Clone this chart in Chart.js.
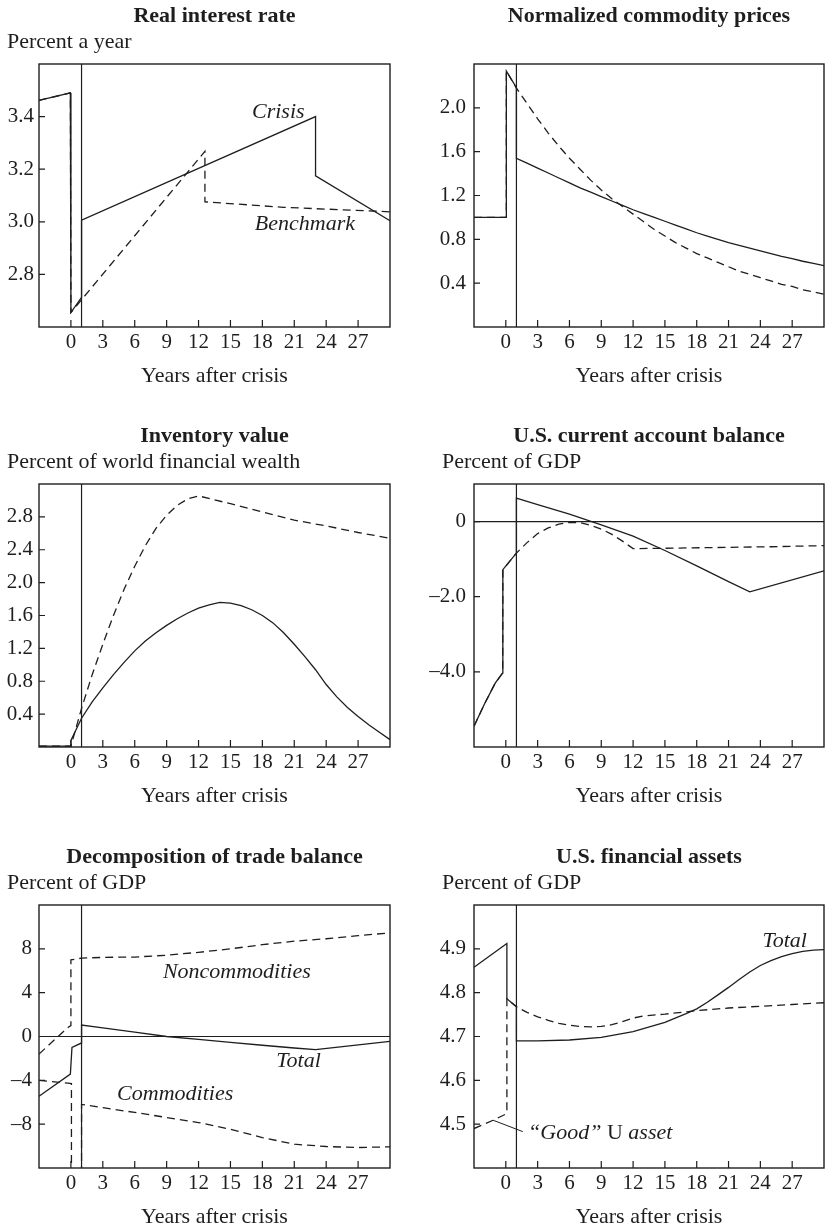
<!DOCTYPE html>
<html>
<head>
<meta charset="utf-8">
<script src="https://cdn.jsdelivr.net/npm/chart.js@4.4.0/dist/chart.umd.min.js"></script>
<style>
  html, body { margin: 0; padding: 0; background: #fff; overflow: hidden; }
  #page { position: relative; width: 825px; height: 1228px; overflow: hidden; }
  canvas { position: absolute; }
</style>
</head>
<body>
<div id="page">
  <canvas id="rate" width="412" height="389" style="left:0;top:0"></canvas>
  <canvas id="prices" width="413" height="389" style="left:412px;top:0"></canvas>
  <canvas id="inventory" width="412" height="389" style="left:0;top:420px"></canvas>
  <canvas id="account" width="413" height="389" style="left:412px;top:420px"></canvas>
  <canvas id="trade" width="412" height="389" style="left:0;top:841px"></canvas>
  <canvas id="assets" width="413" height="389" style="left:412px;top:841px"></canvas>
</div>
<script>
var ink = '#1e1e1e';
var serif = "'Liberation Serif', 'Times New Roman', serif";

// x ticks shared by all panels
var yearTicks = [0, 3, 6, 9, 12, 15, 18, 21, 24, 27];
var crisisLine = [1, 1];

// Real interest rate
var rateCrisisX = [-3, -0.05, 0, 1, 1, 23, 23, 30];
var rateCrisisY = [3.462, 3.49, 2.655, 2.713, 3.006, 3.40, 3.175, 3.004];
var rateBenchX = [-3, -0.05, 0, 12.6, 12.6, 20, 30];
var rateBenchY = [3.462, 3.49, 2.655, 3.268, 3.076, 3.055, 3.038];
var rateTicks = [2.8, 3.0, 3.2, 3.4];
var rateTickText = ['2.8', '3.0', '3.2', '3.4'];

// Normalized commodity prices
var priceCrisisX = [-3, 0.05, 0.05, 1, 1, 2, 3, 4, 5, 6, 7, 8, 9, 10, 11, 12, 13, 14, 15, 16, 17, 18, 19, 20, 21, 22, 23, 24, 25, 26, 27, 28, 29, 30];
var priceCrisisY = [1.0, 1.0, 2.336, 2.185, 1.54, 1.495, 1.45, 1.405, 1.36, 1.315, 1.27, 1.23, 1.19, 1.15, 1.11, 1.07, 1.035, 1.0, 0.965, 0.93, 0.895, 0.86, 0.83, 0.80, 0.77, 0.745, 0.72, 0.695, 0.67, 0.645, 0.625, 0.60, 0.58, 0.56];
var priceBenchX = [-3, 0.05, 0.05, 1, 2, 3, 4, 5, 6, 7, 8, 9, 10, 11, 12, 13, 14, 15, 16, 17, 18, 19, 20, 21, 22, 23, 24, 25, 26, 27, 28, 29, 30];
var priceBenchY = [1.0, 1.0, 2.336, 2.18, 2.04, 1.90, 1.77, 1.65, 1.54, 1.44, 1.34, 1.25, 1.17, 1.10, 1.03, 0.96, 0.89, 0.83, 0.77, 0.72, 0.67, 0.63, 0.59, 0.55, 0.51, 0.48, 0.45, 0.42, 0.39, 0.37, 0.34, 0.32, 0.30];
var priceTicks = [0.4, 0.8, 1.2, 1.6, 2.0];
var priceTickText = ['0.4', '0.8', '1.2', '1.6', '2.0'];

// Inventory value
var invCrisisX = [-3, 0, 0, 1, 2, 3, 4, 5, 6, 7, 8, 9, 10, 11, 12, 13, 14, 15, 16, 17, 18, 19, 20, 21, 22, 23, 24, 25, 26, 27, 28, 29, 30];
var invCrisisY = [0.01, 0.01, 0.08, 0.35, 0.55, 0.72, 0.88, 1.03, 1.17, 1.29, 1.39, 1.48, 1.56, 1.63, 1.69, 1.73, 1.76, 1.75, 1.72, 1.67, 1.60, 1.51, 1.39, 1.25, 1.10, 0.94, 0.76, 0.61, 0.48, 0.37, 0.27, 0.18, 0.09];
var invBenchX = [-3, 0, 1, 2, 3, 4, 5, 6, 7, 8, 9, 10, 11, 12, 15, 18, 21, 24, 27, 30];
var invBenchY = [0.01, 0.01, 0.47, 0.88, 1.25, 1.60, 1.92, 2.20, 2.45, 2.66, 2.82, 2.94, 3.02, 3.055, 2.96, 2.86, 2.76, 2.69, 2.61, 2.54];
var invTicks = [0.4, 0.8, 1.2, 1.6, 2.0, 2.4, 2.8];
var invTickText = ['0.4', '0.8', '1.2', '1.6', '2.0', '2.4', '2.8'];

// U.S. current account balance
var caCrisisX = [-3, -2, -1, -0.3, -0.28, 1, 1, 3, 6, 9, 12, 15, 18, 21, 23, 30];
var caCrisisY = [-5.45, -4.85, -4.3, -4.03, -1.28, -0.84, 0.625, 0.45, 0.2, -0.09, -0.39, -0.77, -1.18, -1.6, -1.87, -1.31];
var caBenchX = [-3, -2, -1, -0.3, -0.28, 1, 2, 3, 4, 5, 6, 7, 8, 9, 10, 11, 12, 15, 20, 25, 30];
var caBenchY = [-5.45, -4.85, -4.3, -4.03, -1.28, -0.84, -0.56, -0.32, -0.17, -0.07, -0.02, -0.03, -0.1, -0.2, -0.34, -0.52, -0.72, -0.71, -0.69, -0.67, -0.64];
var caTicks = [-4, -2, 0];
var caTickText = ['\u20134.0', '\u20132.0', '0'];

// Decomposition of trade balance
var tradeNonX = [-3, -0.25, 0, 0, 1, 3, 6, 9, 12, 15, 18, 21, 24, 27, 30];
var tradeNonY = [-1.6, 0.85, 1.0, 7.0, 7.15, 7.22, 7.25, 7.42, 7.68, 8.0, 8.38, 8.7, 8.92, 9.2, 9.46];
var tradeComX = [-3, -0.3, 0.05, 0.05, 1, 1, 3, 6, 9, 12, 15, 18, 21, 24, 27, 30];
var tradeComY = [-4.0, -4.25, -4.3, -13, -13, -6.2, -6.5, -6.93, -7.39, -7.85, -8.46, -9.22, -9.83, -10.04, -10.13, -10.07];
var tradeTotX = [-3, -0.05, 0.1, 1, 1, 3, 6, 9, 12, 15, 18, 21, 23, 30];
var tradeTotY = [-5.45, -3.43, -0.99, -0.59, 1.05, 0.78, 0.4, 0.0, -0.27, -0.54, -0.8, -1.05, -1.2, -0.44];
var tradeTicks = [-8, -4, 0, 4, 8];
var tradeTickText = ['\u20138', '\u20134', '0', '4', '8'];

// U.S. financial assets
var assetTotX = [-3, 0.1, 0.1, 1, 1, 3, 6, 9, 12, 15, 17, 18, 19, 20, 21, 22, 23, 24, 25, 26, 27, 28, 29, 30];
var assetTotY = [4.858, 4.912, 4.786, 4.768, 4.690, 4.690, 4.692, 4.698, 4.711, 4.732, 4.752, 4.763, 4.778, 4.795, 4.812, 4.83, 4.847, 4.862, 4.873, 4.882, 4.889, 4.894, 4.897, 4.898];
var assetGoodX = [-3, -1.2, 0, 0.1, 0.1, 1, 2, 3, 4, 5, 6, 7, 8, 9, 10, 11, 12, 13, 15, 18, 21, 24, 27, 30];
var assetGoodY = [4.490, 4.509, 4.523, 4.527, 4.786, 4.768, 4.755, 4.745, 4.737, 4.730, 4.726, 4.723, 4.722, 4.723, 4.727, 4.734, 4.742, 4.747, 4.751, 4.759, 4.765, 4.769, 4.773, 4.777];
var assetLeaderX = [-1.2, 1.6];
var assetLeaderY = [4.509, 4.483];
var assetTicks = [4.5, 4.6, 4.7, 4.8, 4.9];
var assetTickText = ['4.5', '4.6', '4.7', '4.8', '4.9'];

// frame, inward ticks, unit line and in-plot labels
var framePlugin = {
  id: 'frame',
  afterDatasetsDraw: function (chart, args, opts) {
    var ctx = chart.ctx, a = chart.chartArea;
    var x = chart.scales.x, y = chart.scales.y;
    ctx.save();
    ctx.strokeStyle = ink;
    ctx.lineWidth = 1.4;
    ctx.strokeRect(a.left, a.top, a.right - a.left, a.bottom - a.top);
    ctx.lineWidth = 1.2;
    ctx.beginPath();
    x.ticks.forEach(function (t) {
      var px = x.getPixelForValue(t.value);
      ctx.moveTo(px, a.bottom);
      ctx.lineTo(px, a.bottom - 7);
    });
    y.ticks.forEach(function (t) {
      var py = y.getPixelForValue(t.value);
      ctx.moveTo(a.left, py);
      ctx.lineTo(a.left + 6, py);
    });
    ctx.stroke();

    ctx.fillStyle = ink;
    ctx.textBaseline = 'middle';
    ctx.textAlign = 'left';
    if (opts.unit) {
      ctx.font = '22px ' + serif;
      ctx.fillText(opts.unit, a.left - 32, a.top - 21.6);
    }
    (opts.notes || []).forEach(function (n) {
      var fonts = n.parts.map(function (p) { return (p[1] ? 'italic ' : '') + '22px ' + serif; });
      var widths = n.parts.map(function (p, i) { ctx.font = fonts[i]; return ctx.measureText(p[0]).width; });
      var total = widths.reduce(function (s, w) { return s + w; }, 0);
      var px = x.getPixelForValue(n.x);
      if (n.align !== 'left') px -= total / 2;
      var py = y.getPixelForValue(n.y);
      n.parts.forEach(function (p, i) {
        ctx.font = fonts[i];
        ctx.fillText(p[0], px, py);
        px += widths[i];
      });
    });
    ctx.restore();
  }
};

function line(xs, ys, dash, width) {
  return {
    data: xs.map(function (v, i) { return { x: v, y: ys[i] }; }),
    borderColor: ink,
    borderWidth: width || 1.3,
    borderDash: dash ? [8, 5] : [],
    pointRadius: 0,
    tension: 0,
    fill: false
  };
}

function makePanel(id, cfg) {
  var right = cfg.right;
  new Chart(document.getElementById(id), {
    type: 'line',
    data: { datasets: cfg.series },
    options: {
      responsive: false,
      animation: false,
      events: [],
      layout: {
        autoPadding: false,
        padding: { left: 0, right: right ? 1 : 22, top: 0, bottom: 0 }
      },
      plugins: {
        legend: { display: false },
        tooltip: { enabled: false },
        title: {
          display: true, text: cfg.title, fullSize: false, color: ink,
          font: { family: serif, size: 22, weight: 'bold' },
          padding: { top: 2.8, bottom: 34.8 }
        },
        frame: { unit: cfg.unit, notes: cfg.notes || [] }
      },
      scales: {
        x: {
          type: 'linear', min: -3, max: 30,
          afterBuildTicks: function (s) { s.ticks = yearTicks.map(function (v) { return { value: v }; }); },
          afterFit: function (s) { s.height = 62; },
          grid: { display: false, drawTicks: false },
          border: { display: false },
          ticks: {
            autoSkip: false, maxRotation: 0, padding: 3, color: ink,
            font: { family: serif, size: 21 },
            callback: function (v) { return String(v); }
          },
          title: {
            display: true, text: 'Years after crisis', color: ink,
            font: { family: serif, size: 22 }, padding: 0
          }
        },
        y: {
          type: 'linear', min: cfg.min, max: cfg.max,
          afterBuildTicks: function (s) { s.ticks = cfg.ticks.map(function (v) { return { value: v }; }); },
          afterFit: function (s) { s.width = right ? 62 : 39; },
          grid: { display: false, drawTicks: false },
          border: { display: false },
          ticks: {
            autoSkip: false, padding: cfg.pad, color: ink,
            font: { family: serif, size: 21 },
            callback: function (v, i) { return cfg.tickText[i]; }
          }
        }
      }
    },
    plugins: [framePlugin]
  });
}

makePanel('rate', {
  title: 'Real interest rate', unit: 'Percent a year', min: 2.6, max: 3.6, pad: 5,
  ticks: rateTicks, tickText: rateTickText,
  series: [
    line(rateCrisisX, rateCrisisY),
    line(rateBenchX, rateBenchY, true),
    line(crisisLine, [2.6, 3.6], false, 1.2)
  ],
  notes: [
    { x: 19.5, y: 3.415, parts: [['Crisis', true]] },
    { x: 22.0, y: 2.991, parts: [['Benchmark', true]] }
  ]
});

makePanel('prices', {
  title: 'Normalized commodity prices', unit: '', min: 0, max: 2.4, pad: 8, right: true,
  ticks: priceTicks, tickText: priceTickText,
  series: [
    line(priceCrisisX, priceCrisisY),
    line(priceBenchX, priceBenchY, true),
    line(crisisLine, [0, 2.4], false, 1.2)
  ]
});

makePanel('inventory', {
  title: 'Inventory value', unit: 'Percent of world financial wealth', min: 0, max: 3.2, pad: 6,
  ticks: invTicks, tickText: invTickText,
  series: [
    line(invCrisisX, invCrisisY),
    line(invBenchX, invBenchY, true),
    line(crisisLine, [0, 3.2], false, 1.2)
  ]
});

makePanel('account', {
  title: 'U.S. current account balance', unit: 'Percent of GDP', min: -6, max: 1, pad: 8, right: true,
  ticks: caTicks, tickText: caTickText,
  series: [
    line(caCrisisX, caCrisisY),
    line(caBenchX, caBenchY, true),
    line(crisisLine, [-6, 1], false, 1.2),
    line([-3, 30], [0, 0], false, 1.2)
  ]
});

makePanel('trade', {
  title: 'Decomposition of trade balance', unit: 'Percent of GDP', min: -12, max: 12, pad: 7,
  ticks: tradeTicks, tickText: tradeTickText,
  series: [
    line(tradeTotX, tradeTotY),
    line(tradeNonX, tradeNonY, true),
    line(tradeComX, tradeComY, true),
    line(crisisLine, [-12, 12], false, 1.2),
    line([-3, 30], [0, 0], false, 1.2)
  ],
  notes: [
    { x: 15.6, y: 5.83, parts: [['Noncommodities', true]] },
    { x: 21.4, y: -2.3, parts: [['Total', true]] },
    { x: 9.8, y: -5.23, parts: [['Commodities', true]] }
  ]
});

makePanel('assets', {
  title: 'U.S. financial assets', unit: 'Percent of GDP', min: 4.4, max: 5.0, pad: 8, right: true,
  ticks: assetTicks, tickText: assetTickText,
  series: [
    line(assetTotX, assetTotY),
    line(assetGoodX, assetGoodY, true),
    line(assetLeaderX, assetLeaderY, false, 1),
    line(crisisLine, [4.4, 5.0], false, 1.2)
  ],
  notes: [
    { x: 26.3, y: 4.917, parts: [['Total', true]] },
    { x: 2.1, y: 4.48, align: 'left', parts: [['\u201CGood\u201D', true], [' U ', false], ['asset', true]] }
  ]
});
</script>
</body>
</html>
